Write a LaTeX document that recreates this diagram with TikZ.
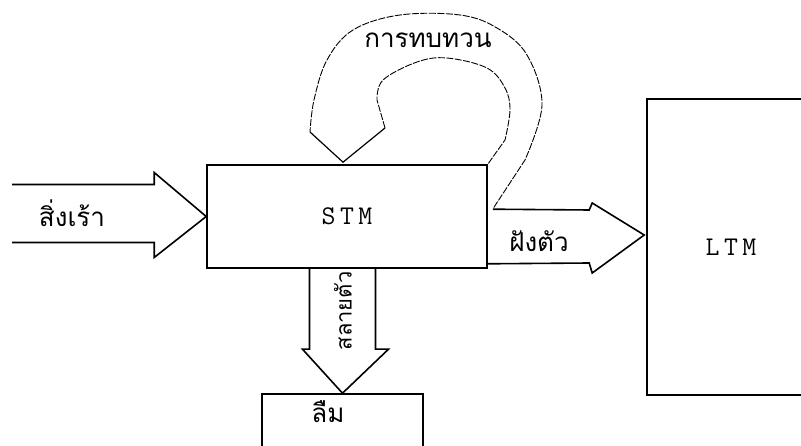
\documentclass[tikz,border=0pt]{standalone}
\usepackage{fontspec}
\newfontfamily\thaifont[Script=Thai]{Loma}
\usetikzlibrary{calc,positioning}

\begin{document}
\begin{tikzpicture}[x=1pt,y=-1pt, line width=1.6pt,
    box/.style={draw, rectangle, inner sep=0pt},
    blockarrow/.style={draw, line join=miter},
    loopline/.style={draw, line width=0.9pt, dash pattern=on 7pt off 1.5pt},
    thai/.style={font=\thaifont\fontsize{26}{30}\selectfont},
    every node/.style={font=\ttfamily\fontsize{27}{32}\selectfont}]
    \clip (0,0) rectangle (801,446);
    \node[box, minimum width=280pt, minimum height=103pt] (stm) at (347,216.5) {S\,T\,M};
    \node[box, minimum width=168pt, minimum height=296pt] (ltm) at (731,247) {L\,T\,M};
    \node[box, minimum width=161pt, minimum height=76pt] (forget) at (342.5,432) {};
    \node[thai] (forgettext) at (328,412) {ลืม};
    \coordinate (ltmin) at ($(ltm.west)+(-2,-12)$);
    \draw[blockarrow] ($(stm.west)+(-194,-32)$) -- ($(stm.west)+(-52,-32)$) -- ($(stm.west)+(-52,-44)$)
        -- (stm.west) -- ($(stm.west)+(-52,41)$) -- ($(stm.west)+(-52,26)$) -- ($(stm.west)+(-194,26)$);
    \node[thai] (stimulus) at (72,213) {สิ่งเร้า};
    \draw[blockarrow] ($(stm.north east)+(5,45)$) -- ($(ltmin)+(-55,-25)$) -- ($(ltmin)+(-52,-32)$)
        -- (ltmin) -- ($(ltmin)+(-52,38)$) -- ($(ltmin)+(-55,28)$) -- ($(stm.south east)+(0,-5)$);
    \node[thai] (embed) at (539,241) {ฝังตัว};
    \draw[blockarrow] ($(forget.north)+(-33,-126)$) -- ($(forget.north)+(-33,-44)$) -- ($(forget.north)+(-40,-44)$)
        -- (forget.north) -- ($(forget.north)+(46,-44)$) -- ($(forget.north)+(33,-44)$) -- ($(forget.north)+(33,-126)$);
    \node[thai, font=\thaifont\fontsize{22}{26}\selectfont, rotate=90] (decay) at (343,311) {สลายตัว};
    \draw[loopline] ($(stm.east)+(6,-9)$) -- plot[smooth, tension=0.6] coordinates {(525,160) (542,105) (527,55) (497,28) (460,15) (400,15) (353,30) (327,60) (314,100) (310,132)};
    \draw[blockarrow, line width=1.2pt] (310,132) -- ($(stm.north)+(-4,-2)$) -- (385,128);
    \draw[loopline] (385,128) -- plot[smooth, tension=0.6] coordinates {(377,100) (383,80) (417,62) (447,58) (487,68) (505,88) (510,110) (505,140)} -- (stm.north east);
    \node[thai] (review) at (428,40) {การทบทวน};
\end{tikzpicture}
\end{document}
